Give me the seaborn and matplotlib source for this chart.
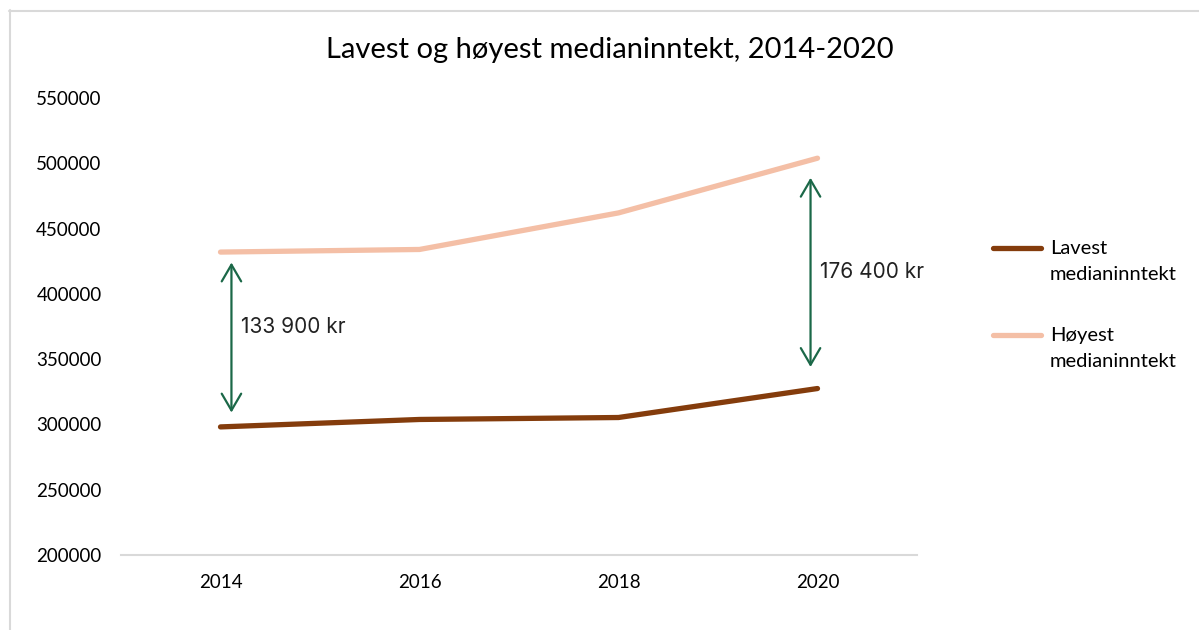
"""Lavest og høyest medianinntekt, 2014-2020 (line chart with gap arrows)."""

import matplotlib

matplotlib.use("Agg")
import matplotlib.pyplot as plt
import pandas as pd
import seaborn as sns
from matplotlib.lines import Line2D

# --- data -------------------------------------------------------------
years = [2014, 2016, 2018, 2020]
lavest = [298100, 303800, 305300, 327500]
hoyest = [432000, 434000, 462000, 503900]
series_names = ["Lavest\nmedianinntekt", "Høyest\nmedianinntekt"]
y_ticks = [200000, 250000, 300000, 350000, 400000, 450000, 500000, 550000]

LOW_COLOR = "#843C0C"
HIGH_COLOR = "#F4BFA6"
ARROW_COLOR = "#1B6848"
GRID_COLOR = "#D9D9D9"
W, H = 1199, 630

df = pd.concat([
    pd.DataFrame({"year": years, "value": lavest, "series": series_names[0]}),
    pd.DataFrame({"year": years, "value": hoyest, "series": series_names[1]}),
])

sns.set_theme(style="white")
plt.rcParams["font.family"] = ["Lato", "DejaVu Sans"]

fig = plt.figure(figsize=(W / 100, H / 100), dpi=100)
ax = fig.add_axes([121 / W, 1 - 555 / H, 796 / W, (555 - 98) / H])

sns.lineplot(data=df, x="year", y="value", hue="series", ax=ax,
             palette=[LOW_COLOR, HIGH_COLOR], linewidth=3.8,
             solid_capstyle="round", legend=False)

ax.set_xlim(2013, 2021)
ax.set_ylim(y_ticks[0], y_ticks[-1])
ax.set_xticks(years)
ax.set_xticklabels([str(y) for y in years])
ax.set_yticks(y_ticks)
ax.set_yticklabels([str(v) for v in y_ticks])
ax.set_xlabel("")
ax.set_ylabel("")
ax.tick_params(axis="both", length=0, labelsize=13.5, colors="#000000")
ax.tick_params(axis="x", pad=14)
ax.tick_params(axis="y", pad=14)
for side in ["top", "right", "left"]:
    ax.spines[side].set_visible(False)
ax.spines["bottom"].set_color(GRID_COLOR)
ax.spines["bottom"].set_linewidth(1.5)

# --- gap arrows ---------------------------------------------------------
# (index, x offset, top pad, bottom pad, label x offset, label y offset)
arrow_specs = [
    (0, 0.11, 8000, 11000, 0.21, 9500),
    (3, -0.07, 15000, 16500, 0.03, 1000),
]
for idx, dx, top_pad, bot_pad, tx, ty in arrow_specs:
    x = years[idx] + dx
    gap = hoyest[idx] - lavest[idx]
    ax.annotate("", xy=(x, hoyest[idx] - top_pad),
                xytext=(x, lavest[idx] + bot_pad),
                arrowprops=dict(arrowstyle="<->,head_length=0.6,head_width=0.35",
                                color=ARROW_COLOR, lw=1.6, mutation_scale=20,
                                shrinkA=0, shrinkB=0))
    label = f"{gap:,}".replace(",", " ") + " kr"
    ax.text(years[idx] + tx, (hoyest[idx] + lavest[idx]) / 2 + ty,
            label, ha="left", va="center", fontsize=15, color="#222222",
            family=["Inter", "DejaVu Sans"])

# --- legend (handle aligned with first text line, Excel style) --------
for name, color, y_px in zip(series_names, [LOW_COLOR, HIGH_COLOR], [248, 335]):
    fig.add_artist(Line2D([993 / W, 1041 / W], [1 - y_px / H] * 2,
                          transform=fig.transFigure, color=color, lw=3.8,
                          solid_capstyle="round"))
    fig.text(1050 / W, 1 - (y_px - 8) / H, name, ha="left", va="top",
             fontsize=14.5, linespacing=1.65, color="#000000")

fig.text(610 / W, 1 - 50 / H, "Lavest og høyest medianinntekt, 2014-2020",
         ha="center", va="center", fontsize=21, color="#000000")

# chart frame (cropped at right / bottom)
fig.add_artist(Line2D([9.5 / W, 9.5 / W], [0, 1 - 10 / H],
                      transform=fig.transFigure, color=GRID_COLOR, lw=1.5))
fig.add_artist(Line2D([9 / W, 1], [1 - 10.5 / H, 1 - 10.5 / H],
                      transform=fig.transFigure, color=GRID_COLOR, lw=1.5))

fig.savefig("out.png", dpi=100)
